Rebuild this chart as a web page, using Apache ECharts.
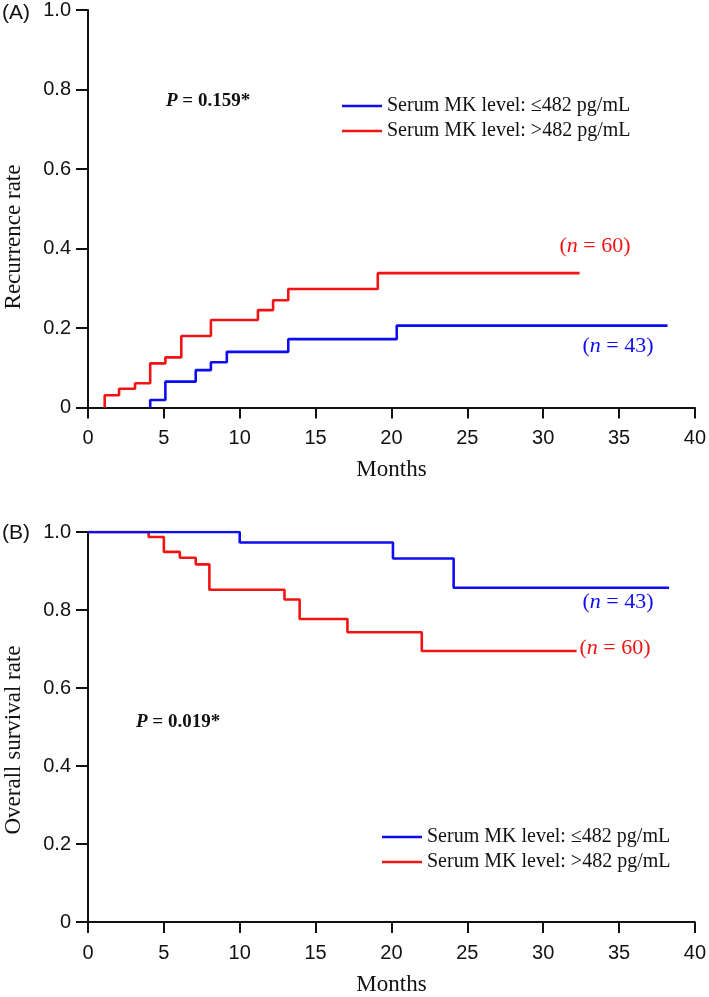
<!DOCTYPE html>
<html><head><meta charset="utf-8">
<script src="https://cdn.jsdelivr.net/npm/echarts@6/dist/echarts.min.js"></script>
<style>html,body{margin:0;padding:0;background:#fff}#c{width:709px;height:997px}</style>
</head><body><div id="c"></div>
<script>
// ---- axis ticks ----
const xTickMin = 0, xTickMax = 40, xTickStep = 5;
const yTickMin = 0, yTickMax = 1, yTickStep = 0.2;
const seriesNames = ['Serum MK level: ≤482 pg/mL', 'Serum MK level: >482 pg/mL'];
// ---- Panel A: recurrence rate (event times in months, cumulative rate after event) ----
const recLowTimes  = [4.1, 5.1, 7.1, 8.1, 9.15, 13.2, 20.35];
const recLowValues = [0.019, 0.065, 0.094, 0.114, 0.14, 0.172, 0.206];
const recLowEnd = 38.2;
const recHighTimes  = [1.1, 2.05, 3.1, 4.1, 5.1, 6.15, 8.1, 11.2, 12.2, 13.2, 19.1];
const recHighValues = [0.031, 0.047, 0.061, 0.111, 0.126, 0.18, 0.22, 0.245, 0.27, 0.298, 0.338];
const recHighEnd = 32.4;
// ---- Panel B: overall survival ----
const osLowTimes  = [10.0, 20.1, 24.1];
const osLowValues = [0.973, 0.932, 0.857];
const osLowEnd = 38.3;
const osHighTimes  = [4.0, 5.0, 6.05, 7.1, 8.0, 12.95, 13.95, 17.1, 22.0];
const osHighValues = [0.987, 0.949, 0.934, 0.917, 0.852, 0.827, 0.777, 0.743, 0.695];
const osHighEnd = 32.2;
const nLow = 43, nHigh = 60;
const pA = '0.159*', pB = '0.019*';

const BLUE = '#0d0df0', RED = '#f01414';
const SANS = '"Liberation Sans", Arial, sans-serif';
const SERIF = '"Liberation Serif", "Times New Roman", serif';

function km(startT, startV, times, values, endT) {
  const d = [[startT, startV]];
  times.forEach((t, i) => d.push([t, values[i]]));
  d.push([endT, values[values.length - 1]]);
  return d;
}

function xAx(gi) {
  return {
    gridIndex: gi, type: 'value', min: xTickMin, max: xTickMax, interval: xTickStep,
    name: 'Months', nameLocation: 'middle', nameGap: 51,
    nameTextStyle: { fontFamily: SERIF, fontSize: 23, color: '#111' },
    axisLine: { onZero: false, lineStyle: { color: '#111', width: 2 } },
    axisTick: { length: 11, lineStyle: { color: '#111', width: 2 } },
    axisLabel: { margin: 21, fontFamily: SANS, fontSize: 20, color: '#111' },
    splitLine: { show: false }
  };
}
function yAx(gi) {
  return {
    gridIndex: gi, type: 'value', min: yTickMin, max: yTickMax, interval: yTickStep,
    axisLine: { show: true, onZero: false, lineStyle: { color: '#111', width: 2 } },
    axisTick: { show: true, length: 12, lineStyle: { color: '#111', width: 2 } },
    axisLabel: { margin: 17, fontFamily: SANS, fontSize: 20, color: '#111',
      formatter: v => (v === 0 ? '0' : v.toFixed(1)) },
    splitLine: { show: false }
  };
}
function line(name, gi, data, color) {
  return { name, type: 'line', xAxisIndex: gi, yAxisIndex: gi, data, step: 'end',
    showSymbol: false, symbol: 'none', color,
    lineStyle: { color, width: 2.6 }, animation: false };
}
function legend(left, top) {
  return { orient: 'vertical', left, top, data: seriesNames, icon: 'rect',
    itemWidth: 40, itemHeight: 2.6, itemGap: 5,
    textStyle: { fontFamily: SERIF, fontSize: 20, color: '#111', lineHeight: 20 } };
}
function rt(x, y, parts, size, color, weight, align) {
  return { type: 'text', x, y, style: {
    text: parts, fill: color, font: (weight || 'normal') + ' ' + size + 'px ' + SERIF,
    textAlign: align || 'left', textVerticalAlign: 'middle',
    rich: { i: { fontStyle: 'italic', fontWeight: weight || 'normal', fontSize: size, fontFamily: SERIF, fill: color } }
  } };
}

const chart = echarts.init(document.getElementById('c'), null, { renderer: 'canvas' });
chart.setOption({
  backgroundColor: '#fff',
  animation: false,
  grid: [
    { left: 88, top: 10, width: 609, height: 397.5 },
    { left: 88, top: 532, width: 609, height: 397 }
  ],
  xAxis: [xAx(0), xAx(1)],
  yAxis: [yAx(0), yAx(1)],
  legend: [legend(337, 91), legend(377, 822)],
  series: [
    line(seriesNames[1], 0, km(recHighTimes[0], 0, recHighTimes, recHighValues, recHighEnd), RED),
    line(seriesNames[0], 0, km(recLowTimes[0], 0, recLowTimes, recLowValues, recLowEnd), BLUE),
    line(seriesNames[1], 1, km(0, 1, osHighTimes, osHighValues, osHighEnd), RED),
    line(seriesNames[0], 1, km(0, 1, osLowTimes, osLowValues, osLowEnd), BLUE)
  ],
  graphic: [
    { type: 'text', x: 2, y: 13, style: { text: '(A)', font: '21px ' + SANS, fill: '#111', textVerticalAlign: 'middle' } },
    { type: 'text', x: 2, y: 533, style: { text: '(B)', font: '21px ' + SANS, fill: '#111', textVerticalAlign: 'middle' } },
    { type: 'text', x: 14, y: 237, rotation: Math.PI / 2, style: { text: 'Recurrence rate', font: '23px ' + SERIF, fill: '#111', textAlign: 'center', textVerticalAlign: 'middle' } },
    { type: 'text', x: 14, y: 740, rotation: Math.PI / 2, style: { text: 'Overall survival rate', font: '23px ' + SERIF, fill: '#111', textAlign: 'center', textVerticalAlign: 'middle' } },
    rt(166, 101, '{i|P} = ' + pA, 19, '#111', 'bold'),
    rt(136, 722, '{i|P} = ' + pB, 19, '#111', 'bold'),
    rt(595, 246, '({i|n} = ' + nHigh + ')', 22, RED, 'normal', 'center'),
    rt(618, 346, '({i|n} = ' + nLow + ')', 22, BLUE, 'normal', 'center'),
    rt(618, 602, '({i|n} = ' + nLow + ')', 22, BLUE, 'normal', 'center'),
    rt(615, 648, '({i|n} = ' + nHigh + ')', 22, RED, 'normal', 'center')
  ]
});
</script></body></html>
